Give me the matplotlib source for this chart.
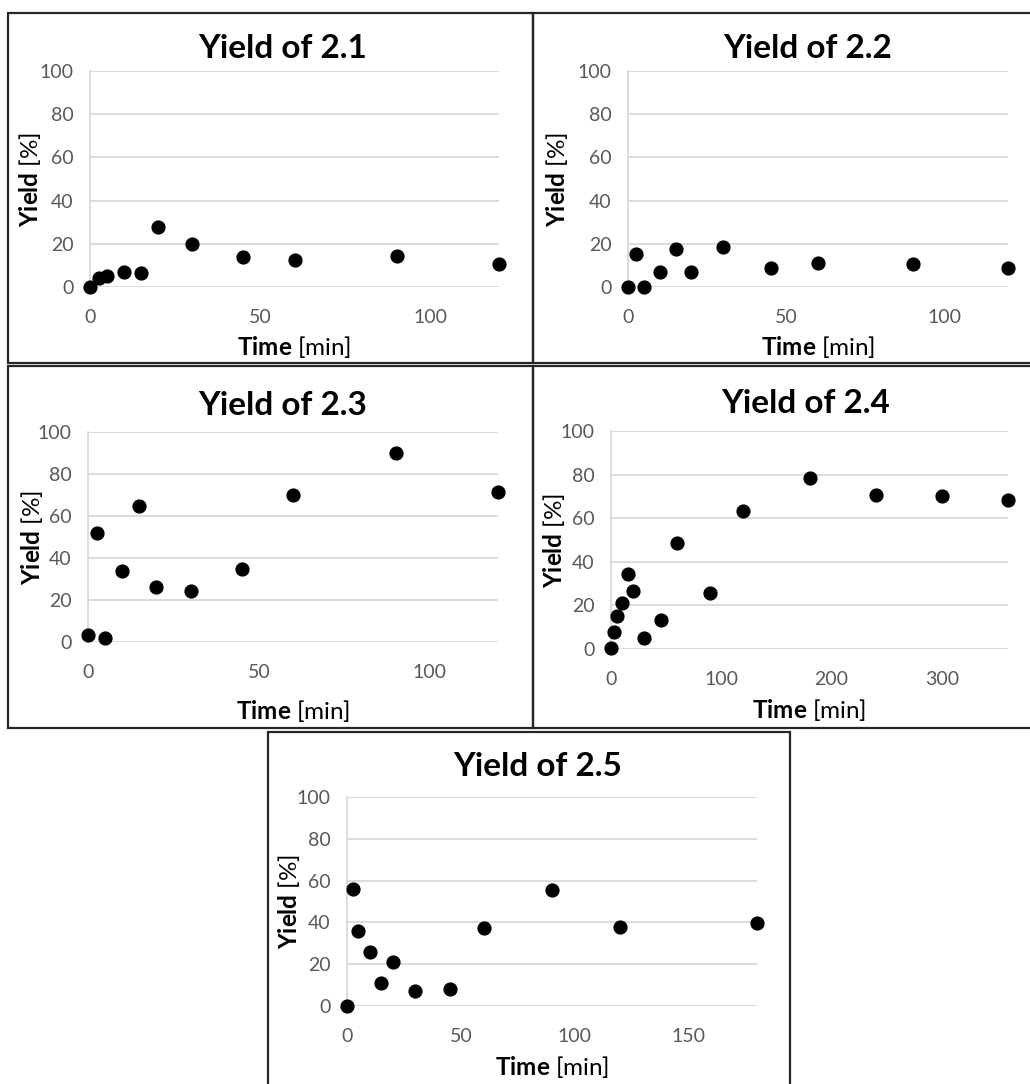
import matplotlib
matplotlib.use("Agg")
import matplotlib.pyplot as plt
from matplotlib.patches import Rectangle

plt.rcParams['font.family'] = ['Lato', 'DejaVu Sans']
plt.rcParams['mathtext.fontset'] = 'custom'
plt.rcParams['mathtext.rm'] = 'Lato'
plt.rcParams['mathtext.bf'] = 'Lato:bold'

# time [min] and yield [%]
t_21 = [0, 2.5, 5, 10, 15, 20, 30, 45, 60, 90, 120]
y_21 = [0, 4, 5, 7, 6.5, 28, 20, 14, 12.5, 14.5, 10.5]

t_22 = [0, 2.5, 5, 10, 15, 20, 30, 45, 60, 90, 120]
y_22 = [0, 15.5, 0, 7, 17.5, 7, 18.5, 9, 11, 10.5, 9]

t_23 = [0, 2.5, 5, 10, 15, 20, 30, 45, 60, 90, 120]
y_23 = [3.5, 52, 2, 34, 65, 26, 24.5, 35, 70, 90, 71.5]

t_24 = [0, 2.5, 5, 10, 15, 20, 30, 45, 60, 90, 120, 180, 240, 300, 360]
y_24 = [0.5, 8, 15, 21, 34.5, 26.5, 5, 13.5, 48.5, 25.5, 63.5, 78.5, 70.5, 70, 68.5]

t_25 = [0, 2.5, 5, 10, 15, 20, 30, 45, 60, 90, 120, 180]
y_25 = [0, 56, 36, 26, 11, 21, 7, 8, 37.5, 55.5, 38, 39.5]

titles = ["Yield of 2.1", "Yield of 2.2", "Yield of 2.3", "Yield of 2.4", "Yield of 2.5"]
x_max = [120, 120, 120, 360, 180]
x_ticks = [[0, 50, 100], [0, 50, 100], [0, 50, 100], [0, 100, 200, 300], [0, 50, 100, 150]]
y_ticks = [0, 20, 40, 60, 80, 100]

W, H = 1030, 1084

# layout in pixels: plot area (left, right, top, bottom), title (cx, baseline), frame (l, t, r, b)
plot_px = [(90, 499, 71, 287), (628, 1008, 71, 287), (88, 498, 432, 642),
           (611, 1008, 431, 649), (347, 757, 797, 1006)]
title_px = [(283, 58), (808, 58), (283, 415), (806, 413), (538, 776)]
frame_px = [(8, 13, 533, 363), (533, 13, 1040, 363), (8, 366, 533, 728),
            (533, 366, 1040, 728), (268, 732, 790, 1095)]
# label offsets from the plot area: ylabel centre left of axis, xlabel centre below axis
ylab_dx = [60, 71, 56, 57, 58]
xlab_dy = [60, 60, 69, 61, 61]


def main():
    fig = plt.figure(figsize=(W / 100, H / 100), dpi=100)
    grey = "#595959"
    data = [(t_21, y_21), (t_22, y_22), (t_23, y_23), (t_24, y_24), (t_25, y_25)]

    for i, (t, y) in enumerate(data):
        l, r, tp, b = plot_px[i]
        w, h = r - l, b - tp
        ax = fig.add_axes([l / W, 1 - b / H, w / W, h / H])
        ax.scatter(t, y, s=85, color="black", zorder=3, clip_on=False)
        ax.set_xlim(0, x_max[i])
        ax.set_ylim(0, 100)
        ax.set_xticks(x_ticks[i])
        ax.set_yticks(y_ticks)
        ax.grid(True, axis="y", color="#d9d9d9", lw=1.3)
        ax.set_axisbelow(True)
        for s in ["top", "right", "bottom"]:
            ax.spines[s].set_visible(False)
        ax.spines["left"].set_color("#d9d9d9")
        ax.spines["left"].set_linewidth(1.3)
        ax.tick_params(length=0, labelsize=14, labelcolor=grey, pad=12)
        ax.tick_params(axis="x", pad=16)
        ax.set_xlabel(r"$\mathbf{Time}$ [min]", fontsize=17.5)
        ax.set_ylabel(r"$\mathbf{Yield}$ [%]", fontsize=17.5)
        ax.xaxis.set_label_coords(0.5, -xlab_dy[i] / h)
        ax.yaxis.set_label_coords(-ylab_dx[i] / w, 0.5)
        ax.xaxis.label.set_va("center")
        ax.yaxis.label.set_va("center")

        cx, by = title_px[i]
        fig.text(cx / W, 1 - by / H, titles[i], ha="center", va="baseline",
                 fontsize=24, fontweight="bold")

        fl, ft, fr, fb = frame_px[i]
        fig.patches.append(Rectangle((fl / W, 1 - fb / H), (fr - fl) / W, (fb - ft) / H,
                                     transform=fig.transFigure, fill=False,
                                     edgecolor="#262626", lw=1.6))

    fig.savefig("out.png", dpi=100)


if __name__ == "__main__":
    main()
